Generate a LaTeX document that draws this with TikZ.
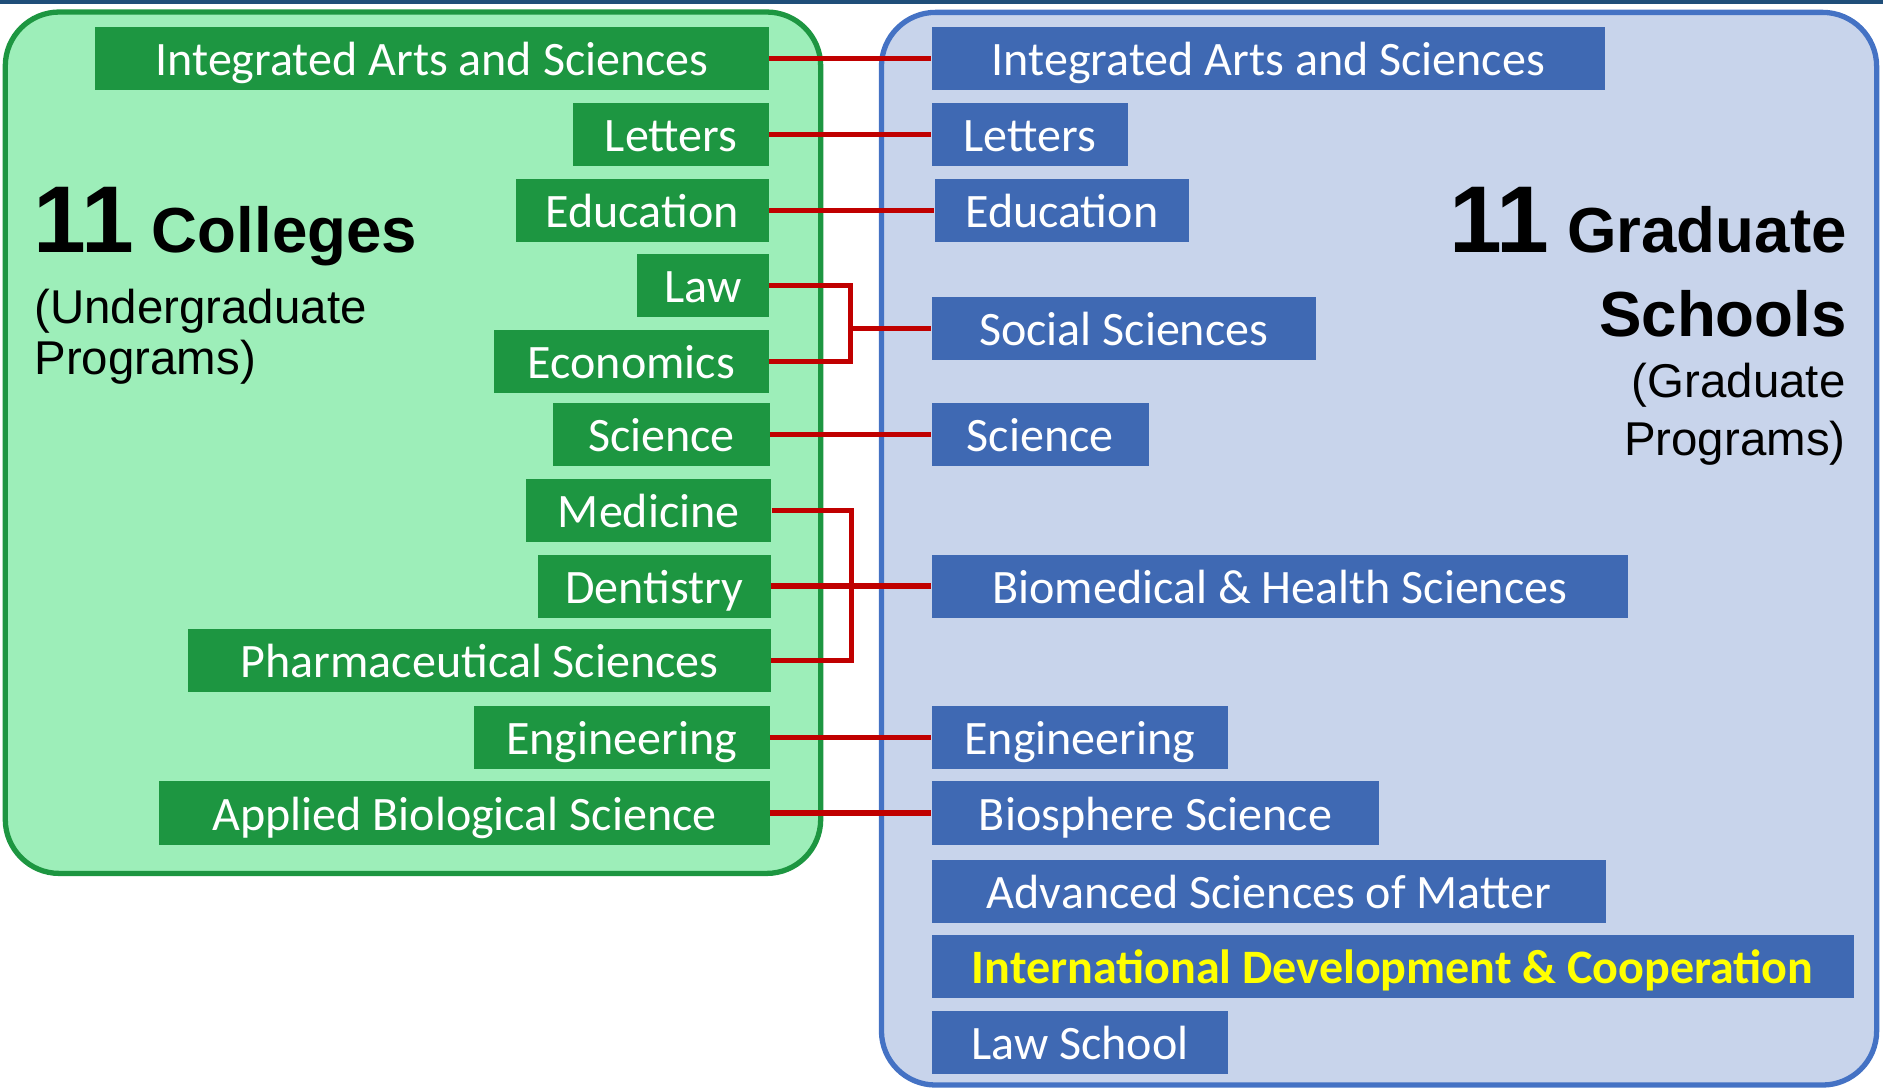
\documentclass[tikz,border=0pt]{standalone}
\usepackage{fontspec}
\setmainfont{Carlito}
\newfontfamily\headfont{Liberation Sans}

\definecolor{collgreen}{HTML}{1D9641}
\definecolor{collpanel}{HTML}{9DEEB9}
\definecolor{gradblue}{HTML}{3F69B3}
\definecolor{gradpanel}{HTML}{C8D4EB}
\definecolor{gradline}{HTML}{4472C4}
\definecolor{linkred}{HTML}{C00000}
\definecolor{topbar}{HTML}{1F4E79}
\definecolor{idcyellow}{HTML}{FFFF00}

\begin{document}
\begin{tikzpicture}[
x=1pt, y=-1pt,
college/.style={fill=collgreen, text=white, anchor=east, inner sep=0pt, minimum height=52.5pt, font=\fontsize{40}{40}\selectfont, text height=31.2pt, text depth=2.8pt},
school/.style={college, fill=gradblue, anchor=west},
link/.style={draw=linkred, line width=4.4pt},
panel/.style={line width=4.4pt, rounded corners=45pt},
big/.style={font=\headfont\bfseries\fontsize{53}{70}\selectfont, inner sep=0pt},
small/.style={font=\headfont\fontsize{39.5}{43}\selectfont, inner sep=0pt}
]
\useasboundingbox (0,0) rectangle (1568,906);

% panels
\draw[panel, draw=collgreen, fill=collpanel] (4.4,10) rectangle (683.4,727.3);
\draw[panel, draw=gradline, fill=gradpanel] (734,10.3) rectangle (1562.7,903.5);
\fill[topbar] (0,0) rectangle (1568,3.3);

% colleges
\node[college, minimum width=561pt] (c-ias) at (640.5,49) {Integrated Arts and Sciences};
\node[college, minimum width=163pt] (c-let) at (640.5,112) {Letters};
\node[college, minimum width=211pt] (c-edu) at (640.5,175) {Education};
\node[college, minimum width=110pt] (c-law) at (640.5,238) {Law};
\node[college, minimum width=229pt] (c-eco) at (640.5,301) {Economics};
\node[college, minimum width=180pt] (c-sci) at (641,362) {Science};
\node[college, minimum width=204pt] (c-med) at (642.5,425) {Medicine};
\node[college, minimum width=194pt] (c-den) at (642,488) {Dentistry};
\node[college, minimum width=485pt] (c-pha) at (642,550) {Pharmaceutical Sciences};
\node[college, minimum width=246pt] (c-eng) at (641,614) {Engineering};
\node[college, minimum width=508pt] (c-abs) at (641,677) {Applied Biological Science};

% graduate schools
\node[school, minimum width=561pt] (g-ias) at (775.5,49) {Integrated Arts and Sciences};
\node[school, minimum width=164pt] (g-let) at (775.5,112) {Letters};
\node[school, minimum width=212pt] (g-edu) at (778,175) {Education};
\node[school, minimum width=320pt] (g-soc) at (775.5,273.5) {Social Sciences};
\node[school, minimum width=181pt] (g-sci) at (775.5,362) {Science};
\node[school, minimum width=580pt] (g-bio) at (775.5,488) {Biomedical \& Health Sciences};
\node[school, minimum width=247pt] (g-eng) at (775.5,614) {Engineering};
\node[school, minimum width=373pt] (g-bsp) at (775.5,677) {Biosphere Science};
\node[school, minimum width=562pt] (g-asm) at (775.5,742) {Advanced Sciences of Matter};
\node[school, minimum width=768pt, text=idcyellow, font=\fontsize{40}{40}\selectfont\bfseries] (g-idc) at (775.5,805) {International Development \& Cooperation};
\node[school, minimum width=247pt] (g-law) at (775.5,868) {Law School};

% links
\coordinate (soc-j) at (708,273.5);
\coordinate (bio-j) at (709,488);
\draw[link] (c-ias.east) -- (g-ias.west);
\draw[link] (c-let.east) -- (g-let.west);
\draw[link] (c-edu.east) -- (g-edu.west);
\draw[link] (c-law.east) -| (soc-j) |- (c-eco.east);
\draw[link] (soc-j) -- (g-soc.west);
\draw[link] (c-sci.east) -- (g-sci.west);
\draw[link] (c-med.east) -| (bio-j) |- (c-pha.east);
\draw[link] (c-den.east) -- (g-bio.west);
\draw[link] (c-eng.east) -- (g-eng.west);
\draw[link] (c-abs.east) -- (g-bsp.west);

% titles
\node[big, anchor=base west] (coll-title) at (28,210) {{\fontsize{79}{79}\selectfont 11} Colleges};
\node[small, anchor=base west, align=left] (coll-sub) at (28.5,312) {(Undergraduate\\Programs)};
\node[big, anchor=base east] (grad-title) at (1538,210) {{\fontsize{79}{79}\selectfont 11} Graduate};
\node[big, anchor=base east] (grad-title2) at (1538,280) {Schools};
\node[small, anchor=base east, align=right, font=\headfont\fontsize{39.5}{48}\selectfont] (grad-sub) at (1537,379) {(Graduate\\Programs)};

\end{tikzpicture}
\end{document}
